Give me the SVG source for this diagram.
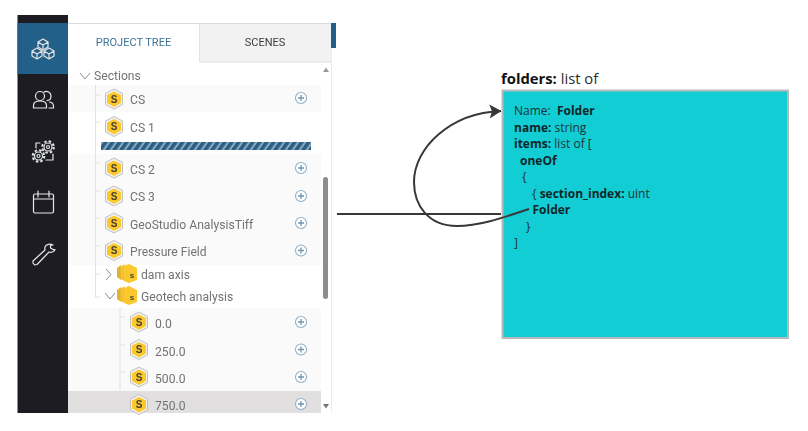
<svg xmlns="http://www.w3.org/2000/svg" width="808" height="431" viewBox="0 0 808 431">
<style>
.ui{font-family:Roboto,"Liberation Sans",sans-serif;font-size:12.150px;fill:#737373}
.tab{font-family:Roboto,"Liberation Sans",sans-serif;font-size:11px}
.s{font-family:"Liberation Sans",sans-serif;font-size:10px;font-weight:700;fill:#4a4030;text-anchor:middle}
.side{fill:none;stroke:#e6e6e6;stroke-width:1.2;stroke-linecap:round;stroke-linejoin:round}
.tree{fill:none;stroke:#e2e2e2;stroke-width:1}
.chev{fill:none;stroke:#8c8c8c;stroke-width:1}
.t{font-family:"Open Sans","Liberation Sans",sans-serif;font-size:12px;fill:#1d3236;white-space:pre}
.t .b{font-weight:700;fill:#10262a}
.conn{fill:none;stroke:#383838;stroke-width:2}
</style>
<defs>
<filter id="soft" x="0" y="0" width="100%" height="100%"><feGaussianBlur stdDeviation="0.4"/></filter>
<pattern id="hatch" width="7" height="8" patternUnits="userSpaceOnUse" patternTransform="skewX(-35)">
<rect width="7" height="8" fill="#2a5f86"/><rect x="4.500" width="2.500" height="8" fill="#8fa9bc"/>
</pattern>
<g id="hex">
<path d="M0-10 8.500-5.500V5.500L0 10-8.500 5.500V-5.500Z" fill="#f1f1f1" stroke="#c0c0c0" stroke-width="1"/>
<path d="M0-7.500 7-4V4L0 8-7 4V-4Z" fill="#fbc92f"/>
</g>
<g id="folderIcon">
<path d="M-13-6-9-9V6L-13 3Z" fill="#e4b02f"/><path d="M-9.500-7-5.500-10V7L-9.500 5Z" fill="#f0c232"/>
<path d="M-6-8-1-10 7-6V6L-1 9-6 7Z" fill="#fbc92f"/>
</g>
<g id="plus">
<circle r="5.500" fill="#fff" stroke="#8fb0c6" stroke-width="1.100"/>
<path d="M-3 0H3M0-3V3" stroke="#6f97b2" stroke-width="1.300"/>
</g>
<marker id="arrow" viewBox="0 0 12 14" refX="11.500" refY="7" markerWidth="12" markerHeight="14" markerUnits="userSpaceOnUse" orient="auto"><path d="M0 0 12 7 0 14 2.500 7Z" fill="#383838"/></marker>
</defs>
<rect width="808" height="431" fill="#fff"/>

<g filter="url(#soft)">
<g id="panel">
<rect x="68" y="23" width="263" height="390" fill="#fff"/>
<path d="M68 23.500H331" stroke="#dcdcdc" stroke-width="1"/>
<path d="M331.500 23V413" stroke="#ececec" stroke-width="1"/>
<rect x="68" y="85" width="253" height="27" fill="#fafafa"/>
<rect x="68" y="154" width="253" height="111" fill="#fafafa"/>
<rect x="68" y="308" width="253" height="83" fill="#fafafa"/>
<rect x="68" y="391" width="253" height="22" fill="#e1dfdf"/>
<rect x="100" y="112" width="214" height="42" fill="#fff"/>
<path d="M95.500 85V297H100M95 95H100M95 122H100M95 163H100M95 191H100M95 218H100M95 246H100M95 274H100" class="tree"/>
<path d="M120 308V390M120 317H125M120 345H125M120 372H125" class="tree"/>
<rect x="323" y="177" width="5" height="122" rx="2.500" fill="#8d8d8d"/>
<path d="M326 67.500 329 72H323Z" fill="#999"/>
<path d="M326 408.500 329 404H323Z" fill="#777"/>
</g>

<g id="sidebar">
<rect x="17.500" y="15" width="50.500" height="398" fill="#1c1f24"/>
<rect x="17.500" y="23" width="50.500" height="51" fill="#24608a"/>
<g class="side">
<path d="M43 39 48 42V47L43 50 38 47V42ZM38 42 43 45 48 42M43 45V50"/>
<path d="M37 48 42 51V56L37 59 32 56V51ZM32 51 37 54 42 51M37 54V59"/>
<path d="M49 48 54 51V56L49 59 44 56V51ZM44 51 49 54 54 51M49 54V59"/>
<circle cx="40" cy="96" r="4.500"/>
<path d="M44 92C47 90.500 51 92 51 96 51 99 49 100.500 47 100.500"/>
<path d="M33.500 108V105.500C33.500 102.500 36.500 101 40 101 43.500 101 46.500 102.500 46.500 105.500V108ZM49.500 102C52 102.500 53.500 104 53.500 106V108H49"/>
<circle cx="48" cy="147" r="4"/><circle cx="48" cy="147" r="5.800" stroke-dasharray="2.500 2.050" stroke-width="2" stroke-linecap="butt"/><circle cx="48" cy="147" r="1.500"/>
<circle cx="38.500" cy="156" r="4"/><circle cx="38.500" cy="156" r="5.800" stroke-dasharray="2.500 2.050" stroke-width="2" stroke-linecap="butt"/><circle cx="38.500" cy="156" r="1.500"/>
<path d="M36 148V143H40M53 154V160H46"/>
<rect x="33.500" y="194" width="20" height="19" rx="1.500"/>
<path d="M33.500 199H53.500M38 191V197M49 191V197"/>
<path d="M33 263 34.500 265 37 264.500 49 252C51 253 54 252 55 249.500L53 249.500 50.500 248 50.500 245.500 53 245C50 243.500 46 244 45 247 44.500 248.500 45 249 45 250L33 261Z"/>
</g>
</g>

<g id="tabs">
<rect x="199" y="24" width="132" height="38" fill="#f2f2f2"/>
<path d="M199.500 24V62H331" fill="none" stroke="#e2e2e2"/>
<rect x="331" y="23" width="5" height="25" fill="#24608a"/>
<text x="133.500" y="46" text-anchor="middle" class="tab" fill="#3e7397">PROJECT TREE</text>
<text x="265" y="46" text-anchor="middle" class="tab" fill="#3c3c3c">SCENES</text>
</g>

<g id="sections"><path d="M80 73 85 79 90 73" class="chev"/><text x="94" y="80" class="ui">Sections</text></g>
<g id="cs"><use href="#hex" x="114" y="99"/><text x="114" y="102.500" class="s">S</text><text x="130" y="104" class="ui">CS</text><use href="#plus" x="301" y="98"/></g>
<g id="cs1"><use href="#hex" x="114" y="126.500"/><text x="114" y="130" class="s">S</text><text x="130" y="131.500" class="ui">CS 1</text><rect x="101" y="142" width="210" height="8" fill="url(#hatch)"/></g>
<g id="cs2"><use href="#hex" x="114" y="168"/><text x="114" y="171.500" class="s">S</text><text x="130" y="174" class="ui">CS 2</text><use href="#plus" x="301" y="168"/></g>
<g id="cs3"><use href="#hex" x="114" y="196"/><text x="114" y="199.500" class="s">S</text><text x="130" y="201" class="ui">CS 3</text><use href="#plus" x="301" y="196"/></g>
<g id="geostudio"><use href="#hex" x="114" y="223"/><text x="114" y="226.500" class="s">S</text><text x="130" y="228.500" class="ui">GeoStudio AnalysisTiff</text><use href="#plus" x="301" y="223"/></g>
<g id="pressure"><use href="#hex" x="114" y="250.500"/><text x="114" y="254" class="s">S</text><text x="130" y="256" class="ui">Pressure Field</text><use href="#plus" x="301" y="250.500"/></g>
<g id="dam"><path d="M106 269 111 274.500 106 280" class="chev"/><use href="#folderIcon" x="130" y="274"/><text x="132" y="278" class="s" style="font-size:8px">s</text><text x="141" y="279" class="ui">dam axis</text></g>
<g id="geotech"><path d="M105 293 110 299 115 293" class="chev"/><use href="#folderIcon" x="130" y="296"/><text x="132" y="300" class="s" style="font-size:8px">s</text><text x="141" y="301" class="ui">Geotech analysis</text></g>
<g id="v0"><use href="#hex" x="139" y="322"/><text x="139" y="325.500" class="s">S</text><text x="155" y="328" class="ui">0.0</text><use href="#plus" x="301" y="322"/></g>
<g id="v250"><use href="#hex" x="139" y="349.500"/><text x="139" y="353" class="s">S</text><text x="155" y="355.500" class="ui">250.0</text><use href="#plus" x="301" y="349.500"/></g>
<g id="v500"><use href="#hex" x="139" y="377"/><text x="139" y="380.500" class="s">S</text><text x="155" y="383" class="ui">500.0</text><use href="#plus" x="301" y="377"/></g>
<g id="v750"><use href="#hex" x="139" y="404.500"/><text x="139" y="408" class="s">S</text><text x="155" y="410" class="ui">750.0</text><use href="#plus" x="301" y="404"/></g>
</g>

<g id="folders">
<rect x="502.500" y="90.500" width="285.500" height="247.500" fill="#12cdd4" stroke="#b9b9b9" stroke-width="2"/>
<text x="501" y="84" font-family="'Open Sans','Liberation Sans',sans-serif" font-size="14.800" fill="#2b2b2b"><tspan font-weight="700" fill="#111">folders:</tspan> list of</text>
<text class="t" x="514" y="115">Name:  <tspan class="b">Folder</tspan></text>
<text class="t" x="514" y="131.500"><tspan class="b">name:</tspan> string</text>
<text class="t" x="514" y="148"><tspan class="b">items:</tspan> list of [</text>
<text class="t" x="520" y="164.500"><tspan class="b">oneOf</tspan></text>
<text class="t" x="522" y="181">{</text>
<text class="t" x="532" y="197.500">{ <tspan class="b">section_index:</tspan> uint</text>
<text class="t" x="532.500" y="214"><tspan class="b">Folder</tspan></text>
<text class="t" x="526" y="230.500">}</text>
<text class="t" x="514" y="247">]</text>
</g>

<g id="connectors">
<path class="conn" d="M337 214H501"/>
<path class="conn" marker-end="url(#arrow)" d="M529 209C505 217 480 226 457 226 428 226 414 205 414 182 414 148 450 113 501 111"/>
</g>
</svg>
